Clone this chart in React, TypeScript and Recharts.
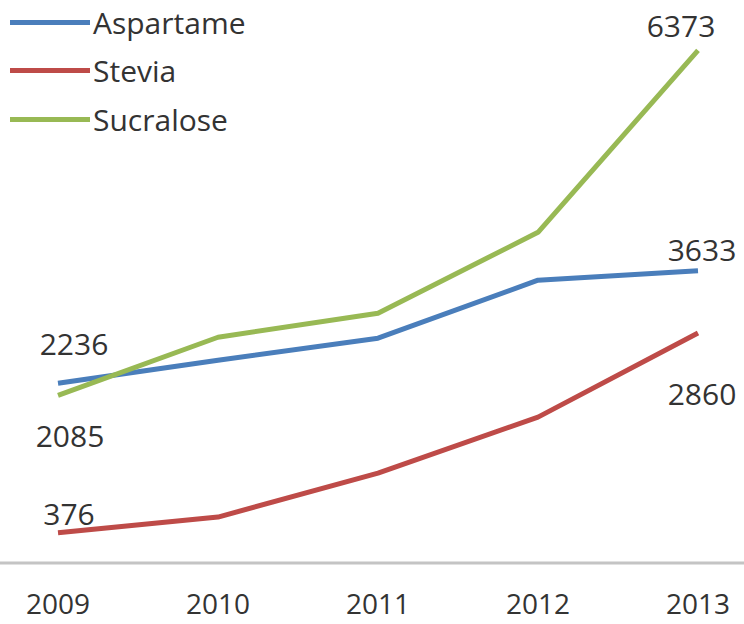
import { LabelList, Legend, Line, LineChart, XAxis, YAxis } from 'recharts'

const years = ['2009', '2010', '2011', '2012', '2013']
const aspartame = [2236, 2522, 2795, 3516, 3633]
const stevia = [376, 571, 1118, 1814, 2860]
const sucralose = [2085, 2807, 3106, 4112, 6373]

const FONT = '"Open Sans", "Noto Sans", sans-serif'

const data = years.map((year, i) => ({
  year,
  Aspartame: aspartame[i],
  Stevia: stevia[i],
  Sucralose: sucralose[i],
}))

// label offsets (first point, last point) relative to the data point
const SERIES = [
  { key: 'Aspartame', color: '#4a7ebb', first: [16, -39], last: [4, -21] },
  { key: 'Stevia', color: '#be4b48', first: [11, -19], last: [4, 61] },
  { key: 'Sucralose', color: '#98b954', first: [12, 41], last: [-17, -24] },
]

function endLabel(first: number[], last: number[]) {
  return (props: any) => {
    const { x, y, value, index } = props
    if (index !== 0 && index !== years.length - 1) return null
    const [dx, dy] = index === 0 ? first : last
    return (
      <text
        x={x + dx}
        y={y + dy + 11}
        textAnchor="middle"
        fontSize={30}
        fontFamily={FONT}
        fill="#333"
      >
        {value}
      </text>
    )
  }
}

function YearTick({ x, y, payload }: any) {
  return (
    <text x={x} y={y + 43} textAnchor="middle" fontSize={28} fontFamily={FONT} fill="#333">
      {payload.value}
    </text>
  )
}

function LegendBox() {
  return (
    <div style={{ marginTop: -2 }}>
      {SERIES.map((s) => (
        <div key={s.key} style={{ display: 'flex', alignItems: 'center', height: 48.5 }}>
          <span
            style={{ display: 'inline-block', width: 80, height: 5, background: s.color, marginLeft: 10 }}
          />
          <span style={{ fontFamily: FONT, fontSize: 30, color: '#333', marginLeft: 3 }}>{s.key}</span>
        </div>
      ))}
    </div>
  )
}

export default function App() {
  return (
    <div style={{ position: 'absolute', left: 0, top: 0, background: '#fff' }}>
      <LineChart width={744} height={624} data={data} margin={{ top: 0, right: 0, bottom: 0, left: 0 }}>
        <XAxis
          dataKey="year"
          height={61}
          padding={{ left: 58, right: 46 }}
          axisLine={{ stroke: '#c4c4c4', strokeWidth: 3 }}
          tickLine={false}
          tick={<YearTick />}
        />
        <YAxis hide domain={[0, 7000]} />
        <Legend
          layout="vertical"
          align="center"
          verticalAlign="middle"
          wrapperStyle={{ top: 0, left: 0, width: 300 }}
          content={<LegendBox />}
        />
        {SERIES.map((s) => (
          <Line
            key={s.key}
            dataKey={s.key}
            type="linear"
            stroke={s.color}
            strokeWidth={5}
            strokeLinejoin="round"
            dot={false}
            activeDot={false}
            isAnimationActive={false}
          >
            <LabelList dataKey={s.key} content={endLabel(s.first, s.last)} />
          </Line>
        ))}
      </LineChart>
    </div>
  )
}
